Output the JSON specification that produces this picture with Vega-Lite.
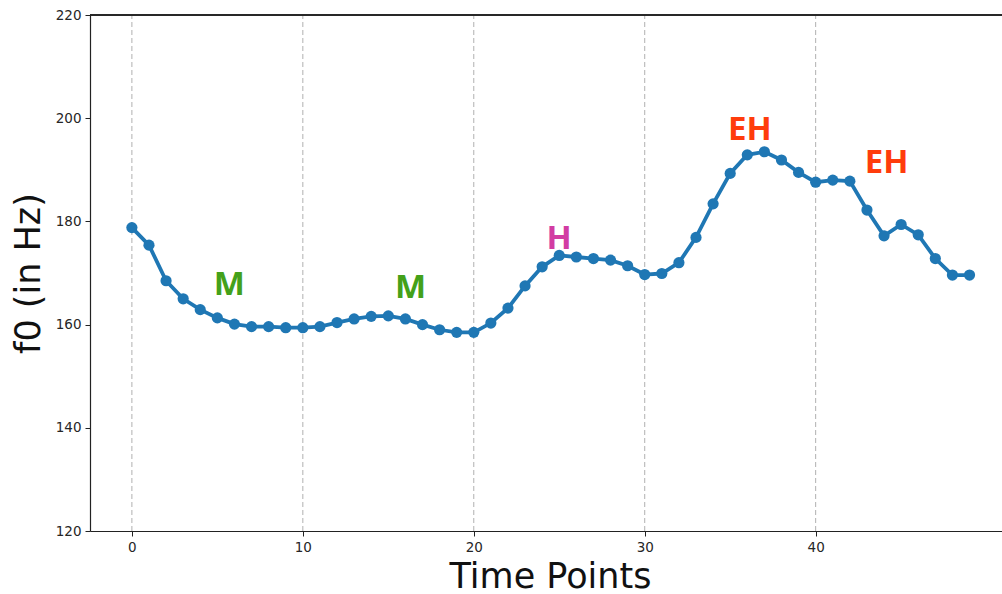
{
  "$schema": "https://vega.github.io/schema/vega-lite/v6.json",
  "width": 912,
  "height": 516,
  "autosize": {"type": "none"},
  "padding": {"left": 90, "top": 15, "right": 0, "bottom": 63},
  "background": "white",
  "config": {
    "view": {"stroke": null},
    "font": "DejaVu Sans"
  },
  "datasets": {
    "f0": [
      {"t": 0, "f0": 178.8}, {"t": 1, "f0": 175.4}, {"t": 2, "f0": 168.5}, {"t": 3, "f0": 165.0},
      {"t": 4, "f0": 162.9}, {"t": 5, "f0": 161.3}, {"t": 6, "f0": 160.1}, {"t": 7, "f0": 159.6},
      {"t": 8, "f0": 159.6}, {"t": 9, "f0": 159.4}, {"t": 10, "f0": 159.4}, {"t": 11, "f0": 159.6},
      {"t": 12, "f0": 160.4}, {"t": 13, "f0": 161.1}, {"t": 14, "f0": 161.6}, {"t": 15, "f0": 161.7},
      {"t": 16, "f0": 161.1}, {"t": 17, "f0": 160.0}, {"t": 18, "f0": 159.0}, {"t": 19, "f0": 158.5},
      {"t": 20, "f0": 158.5}, {"t": 21, "f0": 160.3}, {"t": 22, "f0": 163.2}, {"t": 23, "f0": 167.5},
      {"t": 24, "f0": 171.2}, {"t": 25, "f0": 173.4}, {"t": 26, "f0": 173.1}, {"t": 27, "f0": 172.8},
      {"t": 28, "f0": 172.5}, {"t": 29, "f0": 171.4}, {"t": 30, "f0": 169.7}, {"t": 31, "f0": 169.9},
      {"t": 32, "f0": 172.0}, {"t": 33, "f0": 176.9}, {"t": 34, "f0": 183.4}, {"t": 35, "f0": 189.3},
      {"t": 36, "f0": 192.9}, {"t": 37, "f0": 193.5}, {"t": 38, "f0": 191.9}, {"t": 39, "f0": 189.5},
      {"t": 40, "f0": 187.6}, {"t": 41, "f0": 188.0}, {"t": 42, "f0": 187.8}, {"t": 43, "f0": 182.2},
      {"t": 44, "f0": 177.2}, {"t": 45, "f0": 179.4}, {"t": 46, "f0": 177.4}, {"t": 47, "f0": 172.8},
      {"t": 48, "f0": 169.6}, {"t": 49, "f0": 169.6}
    ],
    "tones": [
      {"label": "M", "tone": "M", "t": 5.7, "f0": 167.6},
      {"label": "M", "tone": "M", "t": 16.3, "f0": 167.1},
      {"label": "H", "tone": "H", "t": 25.0, "f0": 176.5},
      {"label": "EH", "tone": "EH", "t": 36.15, "f0": 197.8},
      {"label": "EH", "tone": "EH", "t": 44.15, "f0": 191.3}
    ],
    "grid": [{"t": 0}, {"t": 10}, {"t": 20}, {"t": 30}, {"t": 40}]
  },
  "layer": [
    {
      "data": {"name": "grid"},
      "mark": {"type": "rule", "color": "#b0b0b0", "strokeWidth": 1, "strokeDash": [5, 3]},
      "encoding": {
        "x": {"field": "t", "type": "quantitative", "scale": {"domain": [-2.45, 50.9], "nice": false, "zero": false},
          "axis": {"values": [0, 10, 20, 30, 40], "grid": false, "domainColor": "#222", "domainWidth": 1.2, "tickColor": "#222", "tickSize": 5,
            "labelFontSize": 13.5, "labelColor": "#262626", "labelPadding": 4,
            "title": "Time Points", "titleFontSize": 35, "titleFontWeight": "normal", "titleColor": "#111",
            "titleX": 460, "titleY": 45, "titleBaseline": "middle", "titleAlign": "center"}},
        "y": {"datum": 120, "type": "quantitative"},
        "y2": {"datum": 220}
      }
    },
    {
      "data": {"name": "grid"},
      "mark": {"type": "rule", "color": "#222", "strokeWidth": 1.2},
      "encoding": {
        "y": {"datum": 220, "type": "quantitative"}
      }
    },
    {
      "data": {"name": "f0"},
      "mark": {"type": "line", "color": "#1f77b4", "strokeWidth": 3.8, "point": {"filled": true, "size": 125, "color": "#1f77b4", "opacity": 1}},
      "encoding": {
        "x": {"field": "t", "type": "quantitative"},
        "y": {"field": "f0", "type": "quantitative", "scale": {"domain": [120, 220], "nice": false, "zero": false},
          "axis": {"values": [120, 140, 160, 180, 200, 220], "grid": false, "domainColor": "#222", "domainWidth": 1.2, "tickColor": "#222", "tickSize": 5,
            "labelFontSize": 13.5, "labelColor": "#262626", "labelPadding": 4,
            "title": "f0 (in Hz)", "titleFontSize": 35, "titleFontWeight": "normal", "titleColor": "#111",
            "titleX": -62, "titleY": 258, "titleBaseline": "middle", "titleAlign": "center", "titleAngle": -90}}
      }
    },
    {
      "data": {"name": "tones"},
      "mark": {"type": "text", "font": "Open Sans", "fontWeight": "bold", "fontSize": 33, "align": "center", "baseline": "middle"},
      "encoding": {
        "x": {"field": "t", "type": "quantitative"},
        "y": {"field": "f0", "type": "quantitative"},
        "text": {"field": "label"},
        "color": {"field": "tone", "type": "nominal", "scale": {"domain": ["M", "H", "EH"], "range": ["#44a11a", "#d23ca3", "#ff3c0c"]}, "legend": null}
      }
    }
  ]
}
